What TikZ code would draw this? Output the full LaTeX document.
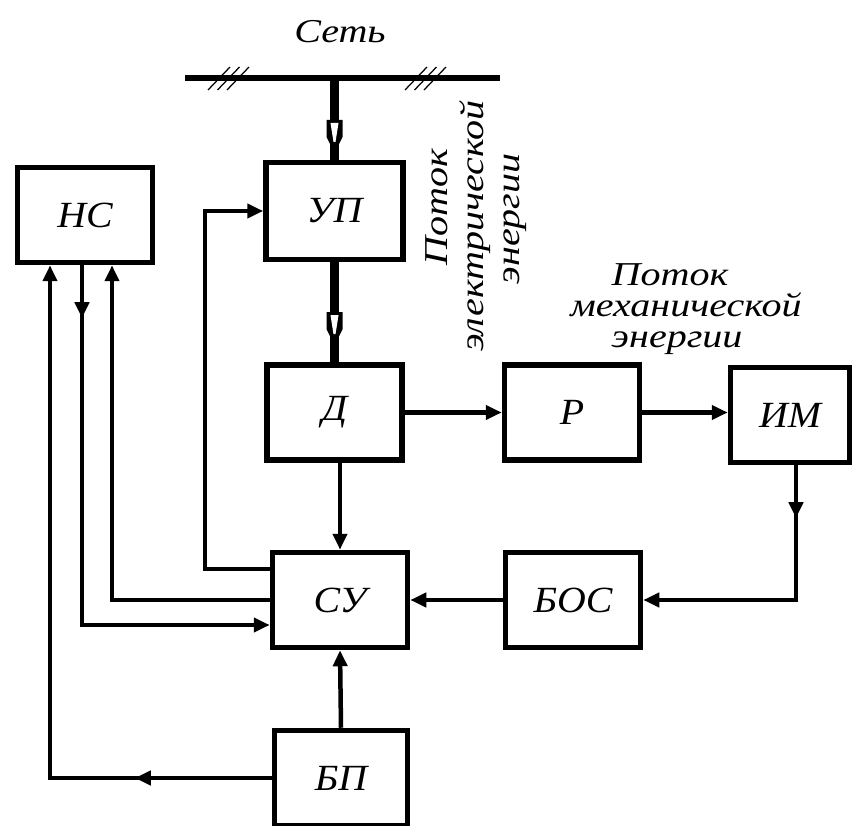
\documentclass[tikz,border=0pt]{standalone}
\usepackage{fontspec}
\setmainfont{Liberation Serif}[FakeStretch=1.08]
\newfontfamily\flowfont{Liberation Serif}[FakeStretch=1.2]
\usetikzlibrary{arrows.meta,calc,positioning,decorations.markings}

\tikzset{
  unit/.style={draw, line width=0.11cm, minimum width=2.7cm, minimum height=1.9cm,
    inner sep=0pt, font=\fontsize{21}{24}\selectfont\itshape},
  link/.style={line width=0.09cm},
  feed/.style={-{Triangle[length=0.32cm,width=0.28cm]}},
  midarrow/.style={postaction={decorate}, decoration={markings,
    mark=at position #1 with {\arrow{Triangle[length=0.32cm,width=0.28cm]}}}},
  powerline/.style={line width=0.17cm},
  hatch/.style={line width=0.025cm},
  caption/.style={font=\flowfont\fontsize{19}{17.6}\selectfont\itshape, align=center},
  flowtip/.pic={
    \fill[black] (-0.16,0) -- (0.16,0) -- (0.16,-0.34) -- (0.06,-0.54)
      -- (-0.06,-0.54) -- (-0.16,-0.34) -- cycle;
    \fill[white] (-0.08,-0.06) -- (0.08,-0.06) -- (0.02,-0.44) -- (-0.02,-0.44) -- cycle;
  }
}

\begin{document}
\begin{tikzpicture}
  \useasboundingbox (0,0) rectangle (17.14,16.5);
  % supply network
  \node[caption] (net) at (6.80,15.86) {Сеть};
  \coordinate (busL) at (3.70,14.94);
  \coordinate (busR) at (10.00,14.94);
  \draw[line width=0.11cm] (busL) -- (busR);
  \foreach \x in {4.16,4.35,4.54,8.10,8.29,8.48}
    \draw[hatch] (\x,14.70) -- ++(0.44,0.46);

  % blocks
  \node[unit] (NS) at (1.70,12.20) {НС};
  \node[unit, minimum width=2.74cm, minimum height=1.94cm] (UP) at (6.69,12.28) {УП};
  \node[unit] (D) at (6.69,8.25) {Д};
  \node[unit] (R) at (11.44,8.25) {Р};
  \node[unit, minimum width=2.38cm] (IM) at (15.80,8.20) {ИМ};
  \node[unit] (SU) at (6.80,4.50) {СУ};
  \node[unit] (BOS) at (11.46,4.50) {БОС};
  \node[unit, minimum width=2.66cm] (BP) at (6.82,0.94) {БП};

  % energy flow
  \coordinate (tap) at (UP.north |- busL);
  \draw[powerline] (tap) -- (UP.north);
  \draw[powerline] (UP.south) -- (D.north);
  \pic at ($(tap)+(0,-0.84)$) {flowtip};
  \pic at ($(UP.south)+(0,-1.0)$) {flowtip};

  \node[caption, rotate=90, font=\flowfont\fontsize{19}{20.5}\selectfont\itshape] (elflow)
    at (9.52,11.98) {\hspace*{0.76cm}Поток\\электрической\\\hspace*{0.28cm}энергии};
  \node[caption] (mechflow) at (13.72,10.32)
    {Поток\hspace*{0.64cm}\\механической\\энергии\hspace*{0.36cm}};

  % signals
  \draw[link, feed] (D.east) -- (R.west);
  \draw[link, feed] (R.east) -- (R.east -| IM.west);
  \draw[link, feed, midarrow=1.06cm] ([xshift=0.12cm]IM.south) |- (BOS.east);
  \draw[link, feed] (BOS.west) -- (SU.east);
  \draw[link, feed] (SU.north |- D.south) -- (SU.north);
  \draw[link, feed] (BP.north) -- (SU.south);
  \draw[link, feed] ([yshift=0.62cm]SU.west) -- ++(-1.30,0) |- (UP.west);
  \draw[link, feed, midarrow=1.06cm] ([xshift=-0.06cm]NS.south) |- ([yshift=-0.50cm]SU.west);
  \draw[link, feed] (SU.west) -| ([xshift=0.54cm]NS.south);
  \draw[link, feed, midarrow=2.74cm] (BP.west) -| ([xshift=-0.70cm]NS.south);
\end{tikzpicture}
\end{document}
